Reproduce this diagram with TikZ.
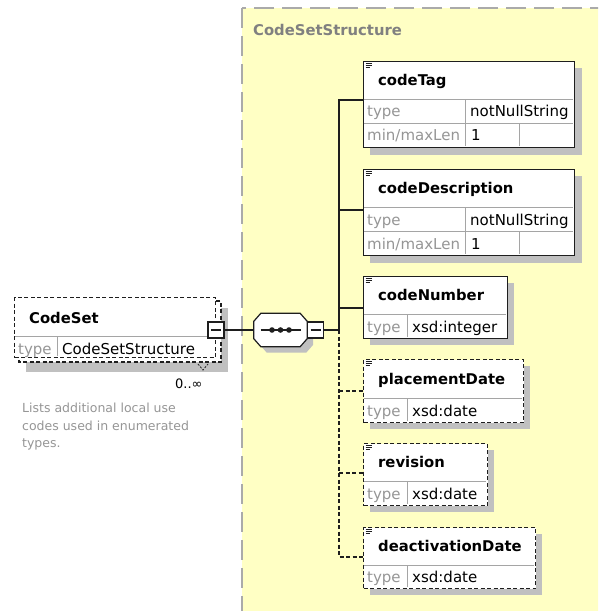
\documentclass[tikz,border=0pt]{standalone}
\usepackage{fontspec}
\setmainfont{DejaVu Sans}

\definecolor{paneyellow}{RGB}{255,255,196}
\definecolor{framegray}{RGB}{170,170,170}
\definecolor{shadowgray}{RGB}{192,192,192}
\definecolor{boxline}{RGB}{30,30,30}
\definecolor{divgray}{RGB}{165,165,165}
\definecolor{labelgray}{RGB}{150,150,150}
\definecolor{titlegray}{RGB}{128,128,128}
\definecolor{descgray}{RGB}{150,150,150}

% octagonal outline of the sequence compositor, built from a node's anchors
\newcommand\seqoutline[1]{([xshift=7pt]#1.north west) -- ([xshift=-7pt]#1.north east)
  -- ([yshift=-8pt]#1.north east) -- ([yshift=8pt]#1.south east)
  -- ([xshift=-7pt]#1.south east) -- ([xshift=7pt]#1.south west)
  -- ([yshift=8pt]#1.south west) -- ([yshift=-8pt]#1.north west) -- cycle}

\begin{document}
\begin{tikzpicture}[x=1pt,y=1pt,
  pane/.style={draw=framegray, fill=paneyellow, line width=2pt, dash pattern=on 20pt off 8pt},
  panetitle/.style={font=\fontsize{14.8}{18}\selectfont\bfseries, text=titlegray, anchor=base west, inner sep=0},
  shadowbox/.style={fill=shadowgray, draw=none},
  elem/.style={draw=boxline, line width=1.3pt, fill=white, inner sep=0, anchor=north west},
  optelem/.style={elem, dash pattern=on 4pt off 2.5pt},
  optline/.style={draw=boxline, line width=1.3pt, dash pattern=on 4pt off 2.5pt},
  divider/.style={draw=divgray, line width=0.9pt},
  elname/.style={font=\fontsize{14.8}{18}\selectfont\bfseries, anchor=base west, inner sep=0},
  lbl/.style={font=\fontsize{15}{18}\selectfont, text=labelgray, anchor=base west, inner sep=0},
  valtext/.style={font=\fontsize{15}{18}\selectfont, text=black, anchor=base west, inner sep=0},
  desc/.style={font=\fontsize{12.5}{15}\selectfont, text=descgray, anchor=base west, inner sep=0},
  minusbox/.style={draw=boxline, line width=1.3pt, fill=white, minimum width=16pt, minimum height=16pt, inner sep=0},
  minussign/.style={draw=boxline, line width=1.4pt},
  seqframe/.style={draw=none, minimum width=53pt, minimum height=33pt, inner sep=0},
  conn/.style={draw=boxline, line width=1.3pt},
  optconn/.style={conn, dash pattern=on 4pt off 2.5pt},
  icon/.style={draw=boxline, line width=0.7pt}
]
\useasboundingbox (0,0) rectangle (598,-611);
\clip (0,0) rectangle (598,-611);
\fill[white] (0,0) rectangle (598,-611);

% complex type pane
\draw[pane] (242,-8) rectangle (614,-632);
\node[panetitle] (paneTitle) at (253,-35) {CodeSetStructure};

% ---- CodeSet element (0..unbounded) ----
\fill[shadowbox] (26,-308) rectangle (228,-372);
\draw[optline, fill=white] (19,-301) rectangle (221,-362);
\node[optelem, minimum width=201pt, minimum height=60pt] (codeset) at (14,-297) {};
\draw[divider] (14.6,-336) -- (208,-336) (57,-336) -- (57,-356.4);
\node[elname] (codesetName) at (29,-323) {CodeSet};
\node[lbl] (codesetTypeLbl) at (18,-354) {type};
\node[valtext] (codesetType) at (62,-354) {CodeSetStructure};
\node[minusbox] (csminus) at (216,-330) {};
\draw[minussign] ([xshift=-5pt]csminus.center) -- ([xshift=5pt]csminus.center);
\draw[boxline, line width=0.8pt, dash pattern=on 2pt off 1.5pt] (198,-364) -- (203,-370) -- (208,-364);
\node[font=\fontsize{13}{15}\selectfont, anchor=base west, inner sep=0] (occurs) at (175,-388) {0..∞};

\node[desc] (desc1) at (22,-412) {Lists additional local use};
\node[desc] (desc2) at (22,-430) {codes used in enumerated};
\node[desc] (desc3) at (22,-447) {types.};

% ---- sequence compositor ----
\node[seqframe] (seqshadow) at (286.5,-336) {};
\node[seqframe] (seq) at (280.5,-330) {};
\fill[shadowgray] \seqoutline{seqshadow};
\filldraw[draw=boxline, fill=white, line width=1.2pt] \seqoutline{seq};
\draw[boxline, line width=1.3pt] ([xshift=-20pt]seq.center) -- ([xshift=20pt]seq.center);
\fill[boxline] ([xshift=-8.5pt]seq.center) circle (2.8pt)
               (seq.center) circle (2.8pt)
               ([xshift=8.5pt]seq.center) circle (2.8pt);
\node[minusbox] (seqminus) at (315.5,-330) {};
\draw[minussign] ([xshift=-5pt]seqminus.center) -- ([xshift=5pt]seqminus.center);

% ---- codeTag ----
\fill[shadowbox] (370,-68) rectangle (582,-155);
\node[elem, minimum width=211pt, minimum height=86pt] (codeTag) at (363,-61) {};
\draw[divider] (363.6,-99) -- (573.4,-99) (363.6,-123) -- (573.4,-123)
               (465,-99) -- (465,-146.4) (519,-123) -- (519,-146.4);
\draw[icon] (365.5,-63) -- ++(6,0) (365.5,-65) -- ++(6,0) (365.5,-67) -- ++(4.5,0);
\node[elname] (codeTagName) at (378,-85) {codeTag};
\node[lbl] (codeTagTypeLbl) at (367,-116) {type};
\node[valtext] (codeTagType) at (470,-116) {notNullString};
\node[lbl] (codeTagLenLbl) at (367,-140) {min/maxLen};
\node[valtext] (codeTagLen) at (471,-140) {1};

% ---- codeDescription ----
\fill[shadowbox] (370,-176) rectangle (582,-263);
\node[elem, minimum width=211pt, minimum height=86pt] (codeDesc) at (363,-169) {};
\draw[divider] (363.6,-207) -- (573.4,-207) (363.6,-231) -- (573.4,-231)
               (465,-207) -- (465,-254.4) (519,-231) -- (519,-254.4);
\draw[icon] (365.5,-171) -- ++(6,0) (365.5,-173) -- ++(6,0) (365.5,-175) -- ++(4.5,0);
\node[elname] (codeDescName) at (378,-193) {codeDescription};
\node[lbl] (codeDescTypeLbl) at (367,-225) {type};
\node[valtext] (codeDescType) at (470,-225) {notNullString};
\node[lbl] (codeDescLenLbl) at (367,-249) {min/maxLen};
\node[valtext] (codeDescLen) at (471,-249) {1};

% ---- codeNumber ----
\fill[shadowbox] (370,-283) rectangle (514,-345);
\node[elem, minimum width=144pt, minimum height=62pt] (codeNumber) at (363,-276) {};
\draw[divider] (363.6,-314) -- (506.4,-314) (407,-314) -- (407,-337.4);
\draw[icon] (365.5,-278) -- ++(6,0) (365.5,-280) -- ++(6,0) (365.5,-282) -- ++(4.5,0);
\node[elname] (codeNumberName) at (378,-300) {codeNumber};
\node[lbl] (codeNumberTypeLbl) at (367,-332) {type};
\node[valtext] (codeNumberType) at (412,-332) {xsd:integer};

% ---- placementDate ----
\fill[shadowbox] (370,-366) rectangle (530,-429);
\node[optelem, minimum width=160pt, minimum height=63pt] (placementDate) at (363,-359) {};
\draw[divider] (363.6,-398) -- (522.4,-398) (407,-398) -- (407,-421.4);
\draw[icon] (365.5,-361) -- ++(6,0) (365.5,-363) -- ++(6,0) (365.5,-365) -- ++(4.5,0);
\node[elname] (placementDateName) at (378,-384) {placementDate};
\node[lbl] (placementDateTypeLbl) at (367,-416) {type};
\node[valtext] (placementDateType) at (412,-416) {xsd:date};

% ---- revision ----
\fill[shadowbox] (370,-450) rectangle (494,-512);
\node[optelem, minimum width=124pt, minimum height=62pt] (revision) at (363,-443) {};
\draw[divider] (363.6,-481) -- (486.4,-481) (407,-481) -- (407,-504.4);
\draw[icon] (365.5,-445) -- ++(6,0) (365.5,-447) -- ++(6,0) (365.5,-449) -- ++(4.5,0);
\node[elname] (revisionName) at (378,-467) {revision};
\node[lbl] (revisionTypeLbl) at (367,-499) {type};
\node[valtext] (revisionType) at (412,-499) {xsd:date};

% ---- deactivationDate ----
\fill[shadowbox] (370,-534) rectangle (542,-595);
\node[optelem, minimum width=172pt, minimum height=61pt] (deactivationDate) at (363,-527) {};
\draw[divider] (363.6,-565) -- (534.4,-565) (407,-565) -- (407,-587.4);
\draw[icon] (365.5,-529) -- ++(6,0) (365.5,-531) -- ++(6,0) (365.5,-533) -- ++(4.5,0);
\node[elname] (deactivationDateName) at (378,-551) {deactivationDate};
\node[lbl] (deactivationDateTypeLbl) at (367,-582) {type};
\node[valtext] (deactivationDateType) at (412,-582) {xsd:date};

% ---- connectors ----
\coordinate (bus) at (339,-330);
\coordinate (tagIn) at ([yshift=-39pt]codeTag.north west);
\coordinate (descIn) at ([yshift=-41pt]codeDesc.north west);
\coordinate (numIn) at ([yshift=-32pt]codeNumber.north west);
\coordinate (placeIn) at ([yshift=-32pt]placementDate.north west);
\coordinate (revIn) at ([yshift=-30pt]revision.north west);
\coordinate (deactIn) at ([yshift=-30pt]deactivationDate.north west);

\draw[conn] (csminus.east) -- (seq.west);
\draw[conn] (seqminus.east) -- (bus);
\draw[conn] (bus) |- (tagIn);
\draw[conn] (bus |- descIn) -- (descIn);
\draw[conn] (bus |- numIn) -- (numIn);
\draw[optconn] (bus) |- (deactIn);
\draw[optconn] (bus |- placeIn) -- (placeIn);
\draw[optconn] (bus |- revIn) -- (revIn);
\end{tikzpicture}
\end{document}
